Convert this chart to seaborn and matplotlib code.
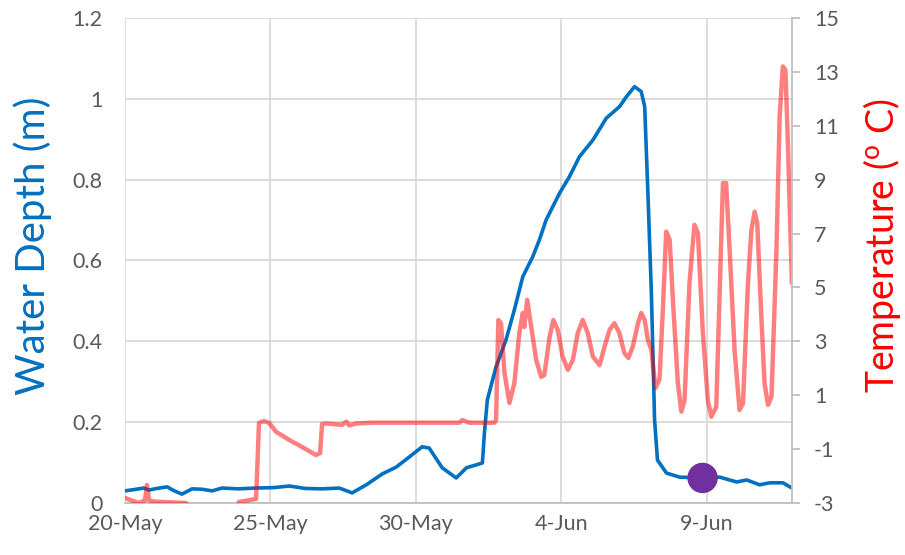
import pandas as pd
import numpy as np
import seaborn as sns
import matplotlib.pyplot as plt
import matplotlib.dates as mdates

# start of record, all times below are days after this
start = pd.Timestamp('2019-05-20 00:00')

depth_days = [0.00, 0.30, 0.65, 0.83, 1.10, 1.45, 1.70, 1.96, 2.31, 2.65, 3.00, 3.34, 3.90, 4.51,
              5.10, 5.65, 6.20, 6.78, 7.37, 7.81, 8.30, 8.85, 9.33, 9.78, 10.22, 10.46, 10.91,
              11.39, 11.74, 12.29, 12.36, 12.46, 12.76, 13.10, 13.39, 13.68, 14.02, 14.25, 14.48,
              14.94, 15.28, 15.63, 16.09, 16.55, 17.01, 17.24, 17.52, 17.75, 17.87, 17.98, 18.10,
              18.21, 18.31, 18.62, 19.07, 19.86, 20.45, 21.03, 21.38, 21.82, 22.17, 22.62, 22.93]
depth_m = [0.030, 0.033, 0.037, 0.032, 0.036, 0.040, 0.030, 0.022, 0.035, 0.034, 0.030, 0.037, 0.035, 0.037,
           0.038, 0.042, 0.036, 0.035, 0.037, 0.025, 0.045, 0.072, 0.089, 0.114, 0.139, 0.136, 0.087,
           0.062, 0.087, 0.099, 0.173, 0.255, 0.337, 0.403, 0.478, 0.560, 0.609, 0.651, 0.700,
           0.766, 0.807, 0.857, 0.898, 0.952, 0.981, 1.005, 1.030, 1.018, 0.981, 0.767, 0.520,
           0.205, 0.106, 0.074, 0.064, 0.062, 0.064, 0.052, 0.057, 0.045, 0.050, 0.050, 0.037]

temp_days = [0.00, 0.48, 0.69, 0.76, 0.83, 1.00, 2.10, 2.20, 3.82, 3.92, 4.51, 4.61, 4.78, 4.96,
             5.20, 5.65, 6.09, 6.57, 6.71, 6.78, 6.92, 7.47, 7.61, 7.71, 7.95, 8.50, 11.50, 11.60,
             11.84, 12.70, 12.76, 12.84, 12.93, 13.05, 13.22, 13.39, 13.56, 13.68, 13.73, 13.83,
             13.97, 14.14, 14.31, 14.42, 14.60, 14.73, 14.88, 15.05, 15.23, 15.40, 15.57, 15.74,
             15.91, 16.09, 16.32, 16.49, 16.66, 16.83, 17.00, 17.17, 17.31, 17.46, 17.64, 17.75,
             17.87, 17.98, 18.10, 18.24, 18.38, 18.50, 18.61, 18.73, 18.84, 19.01, 19.13, 19.24,
             19.41, 19.58, 19.70, 19.87, 20.04, 20.16, 20.33, 20.44, 20.56, 20.67, 20.79, 20.96,
             21.13, 21.25, 21.42, 21.54, 21.65, 21.74, 21.88, 21.99, 22.11, 22.23, 22.40, 22.51,
             22.62, 22.71, 22.80, 22.93]
temp_c = [-2.81, -3.00, -2.90, -2.33, -2.90, -2.95, -3.00, -3.50, -3.50, -2.96, -2.85, -0.03, 0.04, -0.03,
          -0.36, -0.66, -0.92, -1.22, -1.15, -0.07, -0.05, -0.10, 0.02, -0.12, -0.05, -0.02, -0.02, 0.08,
          -0.02, -0.02, 0.08, 3.79, 3.67, 1.83, 0.71, 1.45, 3.31, 4.05, 3.53, 4.54,
          3.53, 2.31, 1.68, 1.75, 3.16, 3.79, 3.42, 2.43, 1.94, 2.31, 3.31, 3.79,
          3.31, 2.43, 2.12, 2.80, 3.42, 3.67, 3.31, 2.57, 2.38, 2.80, 3.67, 4.05,
          3.79, 3.05, 2.68, 1.27, 1.60, 4.30, 7.07, 6.76, 4.54, 1.45, 0.39, 0.82,
          5.17, 7.32, 7.02, 3.31, 0.82, 0.20, 0.57, 4.54, 8.87, 8.87, 6.39, 2.68,
          0.45, 0.70, 5.16, 7.13, 7.81, 7.38, 3.92, 1.44, 0.64, 0.95, 6.39, 11.34,
          13.20, 13.07, 10.10, 5.16]

marker_day = [19.86]
marker_depth = [0.062]

tick_dates = ['2019-05-20', '2019-05-25', '2019-05-30', '2019-06-04', '2019-06-09']
depth_ticks = [0, 0.2, 0.4, 0.6, 0.8, 1.0, 1.2]
depth_labels = ['0', '0.2', '0.4', '0.6', '0.8', '1', '1.2']
temp_ticks = [-3, -1, 1, 3, 5, 7, 9, 11, 13, 15]

depth_df = pd.DataFrame({'time': start + pd.to_timedelta(depth_days, unit='D'), 'depth': depth_m})
temp_df = pd.DataFrame({'time': start + pd.to_timedelta(temp_days, unit='D'), 'temp': temp_c})
dot_df = pd.DataFrame({'time': start + pd.to_timedelta(marker_day, unit='D'), 'depth': marker_depth})

sns.set_style('white')
plt.rcParams['font.family'] = ['Lato', 'DejaVu Sans']
plt.rcParams['mathtext.default'] = 'regular'
plt.rcParams['axes.unicode_minus'] = False

fig = plt.figure(figsize=(9.05, 5.55), dpi=100)
ax = fig.add_axes([0.138, 0.0937, 0.737, 0.874])
ax2 = ax.twinx()

sns.lineplot(data=depth_df, x='time', y='depth', ax=ax, color='#0070C0', linewidth=2.6)
sns.scatterplot(data=dot_df, x='time', y='depth', ax=ax, color='#7030A0', s=480, edgecolor='none', zorder=5)
# temperature sits on top, half transparent red
sns.lineplot(data=temp_df, x='time', y='temp', ax=ax2, color='#FF0000', alpha=0.5, linewidth=3.2)

xmin = start
xmax = start + pd.Timedelta(days=22.93)
ax.set_xlim(xmin, xmax)
ax.set_ylim(0, 1.2)
ax2.set_ylim(-3, 15)

ax.set_xticks(pd.to_datetime(tick_dates))
ax.xaxis.set_major_formatter(mdates.DateFormatter('%-d-%b'))
ax.set_yticks(depth_ticks)
ax.set_yticklabels(depth_labels)
ax2.set_yticks(temp_ticks)

ax2.grid(False)
ax.grid(True, color='#D9D9D9', linewidth=1.3)
ax.set_axisbelow(True)

for a in (ax, ax2):
    for s in a.spines.values():
        s.set_visible(False)
ax2.spines['right'].set_visible(True)
ax2.spines['right'].set_color('#BFBFBF')
ax2.spines['right'].set_linewidth(1.3)
ax.spines['bottom'].set_visible(True)
ax.spines['bottom'].set_color('#BFBFBF')
ax.spines['bottom'].set_linewidth(1.3)

ax.tick_params(axis='y', length=0, labelsize=15.5, colors='#595959', pad=16)
ax.tick_params(axis='x', length=0, labelsize=15.5, colors='#595959', pad=8)
ax2.tick_params(axis='y', length=6, width=1.3, color='#BFBFBF', labelsize=15.5, labelcolor='#595959', pad=10)

ax.set_xlabel('')
ax.set_ylabel('Water Depth (m)', color='#0070C0', fontsize=29)
ax2.set_ylabel('Temperature ($^{o}$ C)', color='#FF0000', fontsize=27)
ax.yaxis.set_label_coords(-0.109, 0.53)
ax2.yaxis.set_label_coords(1.103, 0.53)

fig.savefig('out.png', dpi=100)
